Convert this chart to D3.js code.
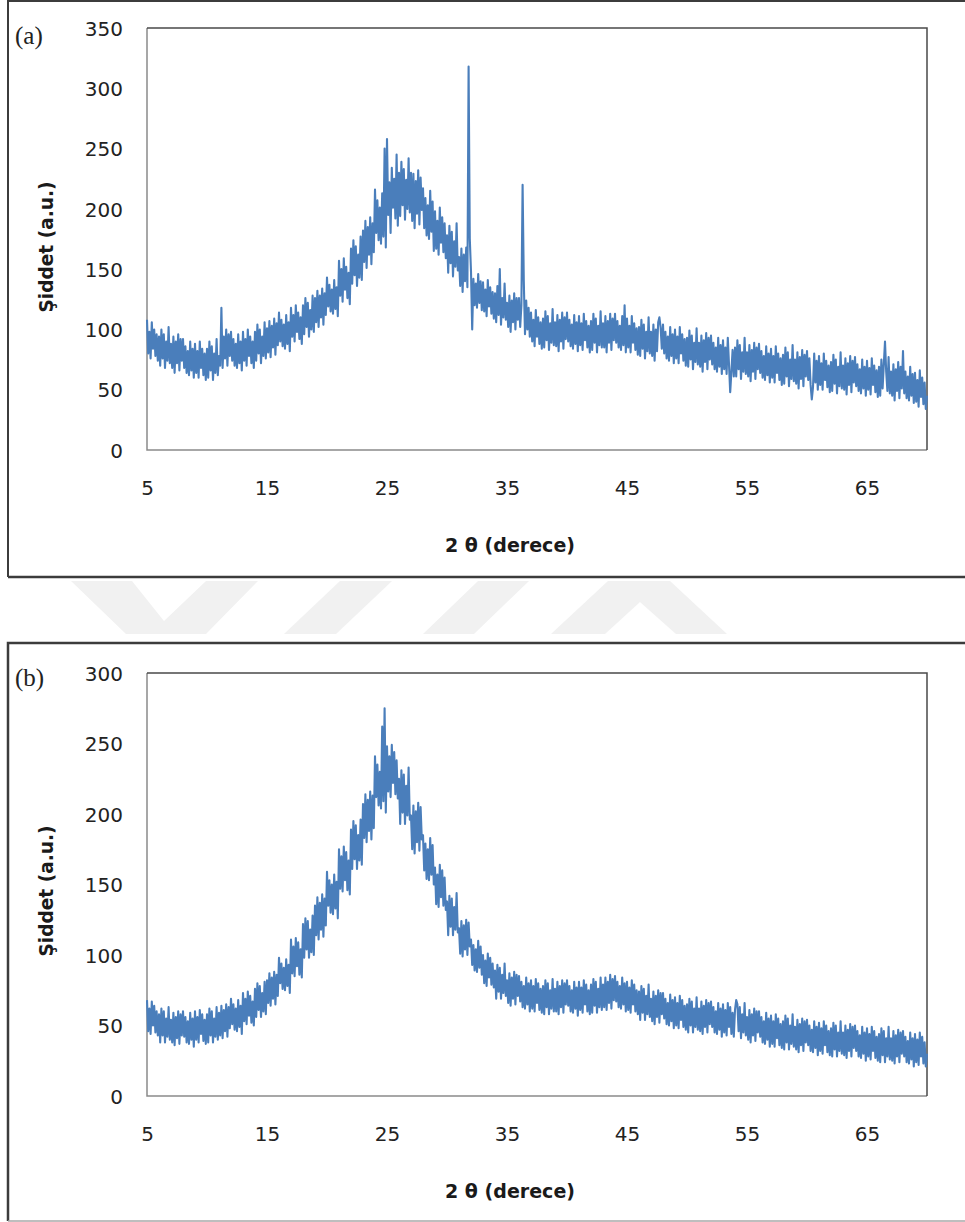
<!DOCTYPE html>
<html>
<head>
<meta charset="utf-8">
<script src="https://cdn.jsdelivr.net/npm/d3@7"></script>
<style>
  html, body { margin: 0; padding: 0; background: #fff; }
  svg { display: block; }
</style>
</head>
<body>
<svg id="chart" width="965" height="1222"></svg>
<script>
// ---------------- data ----------------
// 2θ sampling (degrees), 0.1° step from 5 to 70 (one row = one degree)
const twoTheta = d3.range(0, 651).map(i => +(5 + i * 0.1).toFixed(1));

// Panel (a) intensity (a.u.)
const intensityA = [
  108, 80, 98, 76, 106, 84, 100, 78, 96, 74,   // 5
  94, 70, 100, 76, 96, 68, 90, 74, 102, 72,    // 6
  88, 68, 94, 64, 90, 72, 96, 66, 92, 74,      // 7
  92, 68, 86, 64, 82, 62, 90, 66, 84, 60,      // 8
  88, 64, 82, 60, 90, 68, 84, 62, 80, 58,      // 9
  84, 60, 90, 66, 86, 58, 80, 64, 92, 62,      // 10
  78, 70, 118, 68, 94, 76, 100, 70, 96, 78,    // 11
  98, 74, 92, 70, 88, 68, 96, 72, 90, 66,      // 12
  98, 74, 92, 70, 100, 78, 94, 72, 90, 68,     // 13
  98, 74, 104, 80, 100, 72, 94, 78, 106, 76,   // 14
  101, 81, 107, 77, 103, 85, 109, 79, 105, 87, // 15
  114, 90, 108, 86, 104, 84, 112, 88, 106, 82, // 16
  118, 94, 112, 90, 120, 98, 114, 92, 110, 88, // 17
  120, 96, 126, 102, 122, 94, 116, 100, 128, 98, // 18
  126, 106, 132, 102, 128, 110, 134, 104, 130, 112, // 19
  143, 119, 137, 115, 133, 113, 141, 117, 135, 111, // 20
  157, 128, 150, 123, 159, 133, 152, 126, 147, 121, // 21
  167, 138, 174, 145, 169, 136, 162, 143, 177, 141, // 22
  182, 156, 190, 151, 185, 162, 193, 154, 188, 164, // 23
  216, 180, 207, 174, 201, 171, 213, 177, 250, 168, // 24
  258, 195, 222, 180, 234, 201, 225, 192, 245, 186, // 25
  230, 194, 239, 203, 233, 191, 224, 200, 242, 197, // 26
  230, 190, 229, 184, 223, 196, 232, 187, 226, 199, // 27
  217, 184, 209, 178, 203, 175, 215, 181, 206, 165, // 28
  198, 167, 190, 162, 201, 172, 193, 164, 188, 159, // 29
  178, 147, 186, 155, 181, 144, 173, 152, 188, 149, // 30
  160, 136, 167, 131, 162, 140, 168, 135, 318, 175, // 31
  148, 100, 142, 120, 138, 118, 146, 122, 140, 116, // 32
  139, 115, 133, 111, 141, 119, 135, 113, 131, 109, // 33
  130, 106, 136, 112, 150, 104, 126, 110, 138, 108, // 34
  122, 102, 128, 98, 124, 106, 130, 100, 126, 108,  // 35
  126, 102, 120, 220, 140, 96, 124, 100, 118, 94,   // 36
  114, 90, 108, 86, 116, 94, 110, 88, 106, 84,      // 37
  109, 85, 115, 91, 111, 83, 105, 89, 117, 87,      // 38
  106, 86, 112, 82, 108, 90, 114, 84, 110, 92,      // 39
  114, 90, 108, 86, 104, 84, 112, 88, 106, 82,      // 40
  111, 87, 105, 83, 113, 91, 107, 85, 103, 81,      // 41
  107, 83, 113, 89, 109, 81, 103, 87, 115, 85,      // 42
  105, 85, 111, 81, 107, 89, 113, 83, 109, 91,      // 43
  113, 89, 107, 85, 103, 83, 111, 87, 120, 81,      // 44
  109, 85, 103, 81, 111, 89, 105, 83, 101, 79,      // 45
  102, 78, 108, 84, 104, 76, 98, 82, 110, 80,       // 46
  98, 78, 104, 74, 100, 82, 106, 110, 102, 84,      // 47
  104, 80, 98, 76, 94, 74, 102, 78, 96, 72,         // 48
  100, 76, 94, 72, 102, 80, 96, 74, 92, 70,         // 49
  93, 69, 99, 75, 95, 67, 89, 73, 101, 71,          // 50
  89, 69, 95, 65, 91, 73, 97, 67, 93, 75,           // 51
  95, 71, 89, 67, 85, 65, 93, 69, 87, 63,           // 52
  91, 67, 85, 63, 93, 71, 48, 65, 83, 61,           // 53
  85, 61, 91, 67, 87, 59, 81, 65, 93, 63,           // 54
  81, 61, 87, 57, 83, 65, 89, 59, 85, 67,           // 55
  88, 64, 82, 60, 78, 58, 86, 62, 80, 56,           // 56
  84, 60, 78, 56, 86, 64, 80, 58, 76, 54,           // 57
  79, 55, 85, 61, 81, 53, 75, 59, 87, 57,           // 58
  75, 55, 81, 51, 77, 59, 83, 53, 79, 61,           // 59
  82, 58, 76, 54, 42, 52, 80, 56, 74, 50,           // 60
  78, 54, 72, 50, 80, 58, 74, 52, 70, 48,           // 61
  73, 49, 79, 55, 75, 47, 69, 53, 81, 51,           // 62
  70, 50, 76, 46, 72, 54, 78, 48, 74, 56,           // 63
  77, 53, 71, 49, 67, 47, 75, 51, 69, 45,           // 64
  74, 50, 68, 46, 76, 54, 70, 48, 66, 44,           // 65
  69, 45, 75, 51, 71, 90, 65, 49, 77, 47,           // 66
  65, 45, 71, 41, 67, 49, 73, 43, 69, 51,           // 67
  82, 47, 65, 43, 61, 41, 69, 45, 63, 39,           // 68
  64, 40, 58, 36, 66, 44, 60, 38, 56, 34,           // 69
  45                                                // 70
];

// Panel (b) intensity (a.u.)
const intensityB = [
  68, 46, 62, 44, 67, 50, 64, 45, 60, 43,      // 5
  58, 38, 62, 43, 60, 38, 55, 42, 63, 40,      // 6
  54, 38, 59, 36, 56, 41, 60, 37, 58, 43,      // 7
  60, 42, 56, 38, 53, 37, 59, 40, 55, 35,      // 8
  60, 40, 56, 38, 61, 44, 58, 39, 54, 37,      // 9
  58, 38, 62, 43, 60, 38, 55, 42, 63, 40,      // 10
  59, 43, 64, 41, 61, 46, 65, 42, 63, 48,      // 11
  69, 51, 65, 47, 62, 46, 68, 49, 64, 44,      // 12
  73, 53, 69, 51, 74, 57, 71, 52, 67, 50,      // 13
  76, 56, 80, 61, 78, 56, 73, 60, 81, 58,      // 14
  82, 66, 87, 64, 84, 69, 88, 65, 86, 71,      // 15
  98, 80, 94, 76, 91, 75, 97, 78, 93, 73,      // 16
  111, 87, 106, 85, 112, 92, 109, 86, 104, 84, // 17
  122, 98, 126, 104, 124, 98, 118, 102, 128, 100, // 18
  135, 114, 141, 111, 137, 118, 143, 113, 140, 121, // 19
  159, 135, 153, 130, 150, 129, 157, 133, 152, 126, // 20
  175, 147, 170, 145, 177, 153, 173, 146, 167, 143, // 21
  189, 161, 195, 168, 192, 161, 185, 167, 196, 164, // 22
  207, 183, 214, 180, 210, 188, 216, 182, 213, 190, // 23
  241, 212, 235, 206, 230, 204, 262, 209, 275, 201, // 24
  248, 216, 241, 212, 249, 222, 244, 214, 238, 211, // 25
  225, 193, 231, 201, 228, 193, 220, 199, 233, 196, // 26
  199, 175, 206, 172, 202, 180, 208, 174, 205, 182, // 27
  185, 160, 179, 154, 175, 153, 183, 157, 178, 150, // 28
  162, 136, 157, 134, 164, 141, 160, 135, 155, 132, // 29
  138, 114, 142, 120, 140, 114, 134, 118, 144, 116, // 30
  119, 101, 124, 99, 121, 104, 125, 100, 123, 106,  // 31
  111, 93, 107, 89, 104, 88, 110, 91, 106, 86,      // 32
  100, 80, 96, 78, 101, 84, 98, 79, 94, 77,         // 33
  89, 69, 93, 74, 91, 69, 86, 73, 94, 71,           // 34
  82, 66, 87, 64, 84, 69, 88, 65, 86, 71,           // 35
  85, 67, 81, 63, 78, 62, 84, 65, 80, 60,           // 36
  82, 62, 78, 60, 83, 66, 80, 61, 76, 59,           // 37
  78, 58, 82, 63, 80, 58, 75, 62, 83, 60,           // 38
  76, 60, 81, 58, 78, 63, 82, 59, 80, 65,           // 39
  82, 64, 78, 60, 75, 59, 81, 62, 77, 57,           // 40
  81, 61, 77, 59, 82, 65, 79, 60, 75, 58,           // 41
  79, 59, 83, 64, 81, 59, 76, 63, 84, 61,           // 42
  79, 63, 84, 61, 81, 66, 86, 62, 83, 68,           // 43
  85, 67, 81, 63, 78, 62, 84, 65, 80, 60,           // 44
  81, 61, 77, 59, 82, 65, 79, 60, 75, 58,           // 45
  74, 54, 78, 59, 76, 54, 71, 58, 79, 56,           // 46
  69, 53, 74, 51, 71, 56, 75, 52, 73, 58,           // 47
  73, 55, 69, 51, 66, 50, 72, 53, 68, 48,           // 48
  70, 50, 66, 48, 71, 54, 68, 49, 64, 47,           // 49
  65, 45, 69, 50, 67, 45, 62, 49, 70, 47,           // 50
  62, 46, 67, 44, 64, 49, 68, 45, 66, 51,           // 51
  67, 49, 63, 45, 60, 44, 66, 47, 62, 42,           // 52
  65, 45, 61, 43, 66, 49, 63, 44, 59, 42,           // 53
  61, 68, 65, 46, 63, 41, 58, 45, 66, 43,           // 54
  56, 40, 61, 38, 58, 43, 62, 39, 60, 45,           // 55
  60, 42, 56, 38, 53, 37, 59, 40, 55, 35,           // 56
  57, 37, 53, 35, 58, 41, 55, 36, 51, 34,           // 57
  53, 33, 57, 38, 55, 33, 50, 37, 58, 35,           // 58
  49, 33, 54, 31, 51, 36, 55, 32, 53, 38,           // 59
  54, 36, 50, 32, 47, 31, 53, 34, 49, 29,           // 60
  52, 32, 48, 30, 53, 36, 50, 31, 46, 29,           // 61
  48, 28, 52, 33, 50, 28, 45, 32, 53, 30,           // 62
  45, 29, 50, 27, 47, 32, 51, 28, 49, 34,           // 63
  50, 32, 46, 28, 43, 27, 49, 30, 45, 25,           // 64
  48, 28, 44, 26, 49, 32, 46, 27, 42, 25,           // 65
  44, 24, 48, 29, 46, 24, 41, 28, 49, 26,           // 66
  41, 25, 46, 23, 43, 28, 47, 24, 45, 30,           // 67
  46, 28, 42, 24, 39, 23, 45, 26, 41, 21,           // 68
  44, 24, 40, 22, 45, 28, 42, 23, 38, 21,           // 69
  30                                                // 70
];

const xTicks = [5, 15, 25, 35, 45, 55, 65];
const yTicksA = [0, 50, 100, 150, 200, 250, 300, 350];
const yTicksB = [0, 50, 100, 150, 200, 250, 300];
const xTitle = "2 θ (derece)";
const yTitle = "Şiddet (a.u.)";
const panelLabels = ["(a)", "(b)"];

// ---------------- drawing ----------------
const svg = d3.select("#chart");
svg.append("rect").attr("width", 965).attr("height", 1222).attr("fill", "#fff");

// watermark (faint chevrons between the panels)
const wm = [
  [[71,581],[132,581],[164,621],[206,581],[258,581],[206,634],[126,634]],
  [[340,581],[392,581],[336,634],[284,634]],
  [[478,581],[529,581],[474,634],[423,634]],
  [[608,581],[670,581],[727,634],[676,634],[640,602],[605,634],[551,634]]
];
svg.append("g").selectAll("polygon").data(wm).join("polygon")
  .attr("points", d => d.map(p => p.join(",")).join(" "))
  .attr("fill", "#f1f1f1");

// outer frames
svg.append("path").attr("d", "M8,577 V1 H975").attr("fill", "none").attr("stroke", "#3c3c3c").attr("stroke-width", 2);
svg.append("path").attr("d", "M8,577 H975").attr("fill", "none").attr("stroke", "#3c3c3c").attr("stroke-width", 2.5);
svg.append("path").attr("d", "M8,1221 V643 H975").attr("fill", "none").attr("stroke", "#3c3c3c").attr("stroke-width", 2.5);
svg.append("path").attr("d", "M8,1221 H975").attr("fill", "none").attr("stroke", "#a8a8a8").attr("stroke-width", 1.5);

function panel(cfg) {
  const x = d3.scaleLinear().domain([5, 70]).range([147, 927]);
  const y = d3.scaleLinear().domain([0, cfg.ymax]).range([cfg.bottom, cfg.top]);
  const g = svg.append("g");

  // plot-area border
  g.append("path")
    .attr("d", `M${x(70)},${y(0)} H${x(5)} V${y(cfg.ymax)}`)
    .attr("fill", "none").attr("stroke", "#8a8a8a").attr("stroke-width", 1.5);
  g.append("path")
    .attr("d", `M${x(5)},${y(cfg.ymax)} H${x(70)} V${y(0)}`)
    .attr("fill", "none").attr("stroke", "#4a4a4a").attr("stroke-width", 1.5);

  // data line
  const line = d3.line().x((d, i) => x(twoTheta[i])).y(d => y(d));
  g.append("path")
    .datum(cfg.values)
    .attr("d", line)
    .attr("fill", "none")
    .attr("stroke", "#4a7ebb")
    .attr("stroke-width", 2.1)
    .attr("stroke-linejoin", "round");

  // y axis
  const ya = d3.axisLeft(y).tickValues(cfg.yticks).tickSize(0).tickPadding(0).tickFormat(d3.format("d"));
  const yg = g.append("g").attr("transform", "translate(123,0)").call(ya);
  yg.select(".domain").remove();
  yg.selectAll("text")
    .attr("font-family", "'DejaVu Sans', Verdana, sans-serif")
    .attr("font-size", 20).attr("fill", "#222").attr("dy", "0.36em").attr("x", 0);

  // x axis
  const xa = d3.axisBottom(x).tickValues(xTicks).tickSize(0).tickPadding(0).tickFormat(d3.format("d"));
  const xg = g.append("g").attr("transform", `translate(0,${cfg.bottom + 38})`).call(xa);
  xg.select(".domain").remove();
  xg.selectAll("text")
    .attr("font-family", "'DejaVu Sans', Verdana, sans-serif")
    .attr("font-size", 20).attr("fill", "#222").attr("dy", "0.36em").attr("y", 0);

  // axis titles
  g.append("text")
    .attr("x", 510).attr("y", cfg.bottom + 95)
    .attr("text-anchor", "middle").attr("dy", "0.36em")
    .attr("font-family", "'DejaVu Sans', sans-serif").attr("font-weight", "bold")
    .attr("font-size", 19).attr("fill", "#1a1a1a")
    .attr("textLength", 130).attr("lengthAdjust", "spacingAndGlyphs")
    .text(xTitle);
  g.append("text")
    .attr("transform", `translate(46,${cfg.ytitleY}) rotate(-90)`)
    .attr("text-anchor", "middle").attr("dy", "0.36em")
    .attr("font-family", "'DejaVu Sans', sans-serif").attr("font-weight", "bold")
    .attr("font-size", 19).attr("fill", "#1a1a1a")
    .attr("textLength", 131).attr("lengthAdjust", "spacingAndGlyphs")
    .text(yTitle);

  // panel label
  g.append("text")
    .attr("x", 15).attr("y", cfg.labelY)
    .attr("dy", "0.33em")
    .attr("font-family", "'Liberation Serif', 'Times New Roman', serif")
    .attr("font-size", 25).attr("fill", "#222")
    .text(cfg.label);
}

panel({ values: intensityA, ymax: 350, top: 28, bottom: 450, yticks: yTicksA, ytitleY: 247, labelY: 36, label: panelLabels[0] });
panel({ values: intensityB, ymax: 300, top: 673, bottom: 1096, yticks: yTicksB, ytitleY: 891, labelY: 678, label: panelLabels[1] });
</script>
</body>
</html>
